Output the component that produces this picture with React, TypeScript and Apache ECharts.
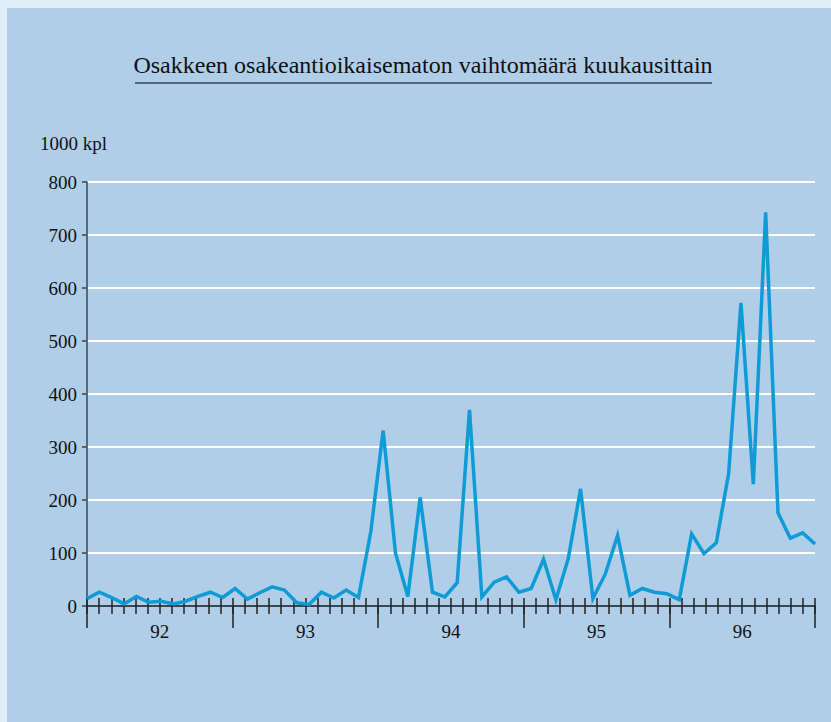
import React, { useEffect, useRef } from "react";
import * as echarts from "echarts";

const TITLE = "Osakkeen osakeantioikaisematon vaihtomäärä kuukausittain";
const UNIT = "1000 kpl";
const YEARS = ["92", "93", "94", "95", "96"];
const MONTHS: string[] = [];
for (const y of YEARS) for (let m = 1; m <= 12; m++) MONTHS.push(`19${y}-${m < 10 ? "0" + m : m}`);

const VOLUME = [
  14, 26, 16, 4, 18, 7, 9, 4, 9, 18, 26, 16,
  33, 13, 25, 36, 30, 6, 3, 26, 15, 30, 16, 140,
  331, 100, 18, 205, 26, 17, 44, 370, 17, 45, 55, 26,
  33, 88, 12, 89, 221, 14, 60, 133, 20, 33, 26, 23,
  12, 136, 99, 119, 250, 572, 230, 743, 176, 128, 138, 117,
];

const FONT = "Liberation Serif";
const INK = "#111111";
const AXIS = "#3c4653";

export default function App() {
  const ref = useRef<HTMLDivElement>(null);
  useEffect(() => {
    const chart = echarts.init(ref.current!, null, { renderer: "svg" });
    chart.setOption({
      animation: false,
      backgroundColor: "#e0eef7",
      textStyle: { fontFamily: FONT },
      graphic: [
        { type: "rect", z: -10, shape: { x: 7, y: 8, width: 824, height: 714 }, style: { fill: "#b0cee8" } },
        {
          type: "text", x: 423, y: 77,
          style: { text: TITLE, fontSize: 24, fontFamily: FONT, fill: INK, align: "center", verticalAlign: "bottom" },
        },
        { type: "line", shape: { x1: 135, y1: 83, x2: 712, y2: 83 }, style: { stroke: "#55657a", lineWidth: 2 } },
        {
          type: "text", x: 40, y: 153,
          style: { text: UNIT, fontSize: 19, fontFamily: FONT, fill: INK, align: "left", verticalAlign: "bottom" },
        },
      ],
      grid: { left: 87, right: 16, top: 182, bottom: 116 },
      xAxis: [
        { type: "category", data: MONTHS, boundaryGap: false, show: false },
        {
          type: "value", min: 0, max: 60, interval: 1, position: "bottom",
          axisLine: { show: true, onZero: false, lineStyle: { color: AXIS, width: 2 } },
          axisTick: { show: true, inside: true, length: 8, lineStyle: { color: "#222", width: 1.5 } },
          axisLabel: { show: false }, splitLine: { show: false },
        },
        {
          type: "value", min: 0, max: 60, interval: 1, position: "bottom",
          axisLine: { show: false, onZero: false },
          axisTick: { show: true, inside: false, length: 8, lineStyle: { color: "#222", width: 1.5 } },
          axisLabel: { show: false }, splitLine: { show: false },
        },
        {
          type: "category", data: YEARS, boundaryGap: true, position: "bottom",
          axisLine: { show: false, onZero: false },
          axisTick: { show: true, interval: 0, length: 22, lineStyle: { color: "#222", width: 1.5 } },
          axisLabel: { show: true, interval: 0, margin: 16, fontSize: 19, fontFamily: FONT, color: INK },
          splitLine: { show: false },
        },
      ],
      yAxis: {
        type: "value", min: 0, max: 800, interval: 100,
        axisLine: { show: true, onZero: false, lineStyle: { color: AXIS, width: 1.5 } },
        axisTick: { show: true, length: 5, lineStyle: { color: AXIS, width: 1.5 } },
        axisLabel: { margin: 10, fontSize: 19, fontFamily: FONT, color: INK },
        splitLine: { show: true, lineStyle: { color: "#ffffff", width: 2 } },
      },
      series: [
        {
          type: "line", xAxisIndex: 0, data: VOLUME, showSymbol: false, clip: false,
          lineStyle: { color: "#0f9bd5", width: 3.5, join: "miter" },
          z: 5,
        },
      ],
    });
    return () => chart.dispose();
  }, []);
  return <div ref={ref} style={{ position: "fixed", left: 0, top: 0, width: 831, height: 722 }} />;
}
